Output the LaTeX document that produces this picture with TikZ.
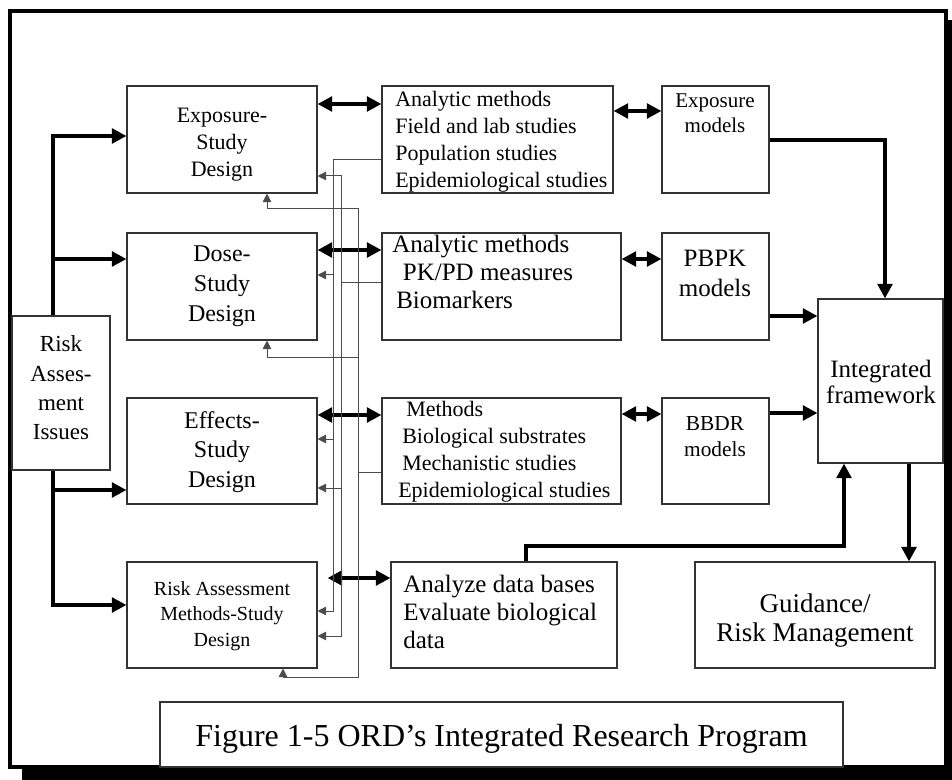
\documentclass[tikz,border=0pt]{standalone}
\usepackage{fontspec}
\setmainfont{Liberation Serif}
\usetikzlibrary{arrows.meta}

% box given by its left, top, right and bottom edge (pixel units, y down)
\newcommand{\mkbox}[5]{%
  \node[box, minimum width={(#4-#2)*0.75pt}, minimum height={(#5-#3)*0.75pt}]
    (#1) at ({(#2+#4)/2},{(#3+#5)/2}) {};}

\begin{document}
\begin{tikzpicture}[x=0.75pt,y=-0.75pt,
  box/.style={draw=black!80, line width=0.8pt, inner sep=0pt, fill=white},
  lbl/.style={inner sep=0pt, align=center, text=black},
  bigtip/.tip={Triangle[length=11pt,width=11pt]},
  smalltip/.tip={Triangle[length=6.5pt,width=6.5pt]},
  bigarrow/.style={line width=3pt, -bigtip},
  dblarrow/.style={line width=3pt, bigtip-bigtip},
  fb/.style={draw=black!70, line width=0.75pt, -smalltip},
  fbline/.style={draw=black!70, line width=0.75pt},
]
\useasboundingbox (0,0) rectangle (952,780);

% outer frame with drop shadow
\fill[black] (22,20) rectangle (952,780);
\draw[line width=2.8pt, fill=white] (10,11) rectangle (946,767);

% study design column
\mkbox{exp}{127}{86}{317}{193}
\mkbox{dose}{127}{233}{317}{340}
\mkbox{eff}{127}{398}{317}{504}
\mkbox{ra}{127}{562}{317}{668}
\mkbox{risk}{12}{316}{110}{470}

% methods column
\mkbox{an}{382}{86}{613}{193}
\mkbox{pk}{382}{233}{621}{340}
\mkbox{em}{382}{398}{621}{504}
\mkbox{ana}{391}{562}{617}{668}

% models column
\mkbox{expm}{662}{86}{769}{193}
\mkbox{pbpk}{662}{233}{769}{340}
\mkbox{bbdr}{662}{398}{769}{504}

% right side
\mkbox{fw}{818}{299}{943}{463}
\mkbox{gd}{695}{562}{935}{668}
\mkbox{cap}{160}{702}{843}{767}

% texts
\node[lbl, font=\fontsize{16.5pt}{20.25pt}\selectfont] (expT) at (222,145) {Exposure-\\Study\\Design};
\node[lbl, font=\fontsize{18pt}{22.5pt}\selectfont] (doseT) at (222,286.5) {Dose-\\Study\\Design};
\node[lbl, font=\fontsize{18pt}{22pt}\selectfont] (effT) at (222,452) {Effects-\\Study\\Design};
\node[lbl, font=\fontsize{15pt}{19pt}\selectfont] (raT) at (222,616) {Risk Assessment\\Methods-Study\\Design};
\node[lbl, font=\fontsize{17.25pt}{22pt}\selectfont] (riskT) at (61,388) {Risk\\Asses-\\ment\\Issues};

\node[lbl, align=left, anchor=west, font=\fontsize{16.5pt}{20.25pt}\selectfont] (anT) at (395,141.5)
  {Analytic methods\\Field and lab studies\\Population studies\\Epidemiological studies};
\node[lbl, align=left, anchor=west, font=\fontsize{18.75pt}{21pt}\selectfont] (pkT) at (392,271.5)
  {Analytic methods\\\hspace*{8pt}PK/PD measures\\\hspace*{3pt}Biomarkers};
\node[lbl, align=left, anchor=west, font=\fontsize{16.5pt}{20.25pt}\selectfont] (emT) at (398,452)
  {\hspace*{6pt}Methods\\\hspace*{3pt}Biological substrates\\\hspace*{3pt}Mechanistic studies\\Epidemiological studies};
\node[lbl, align=left, anchor=west, font=\fontsize{18.75pt}{21pt}\selectfont] (anaT) at (403,611.5)
  {Analyze data bases\\Evaluate biological\\data};

\node[lbl, font=\fontsize{15.75pt}{18.75pt}\selectfont] (expmT) at (715,113.5) {Exposure\\models};
\node[lbl, font=\fontsize{18.75pt}{22.5pt}\selectfont] (pbpkT) at (715,273) {PBPK\\models};
\node[lbl, font=\fontsize{16pt}{19.5pt}\selectfont] (bbdrT) at (715,437) {BBDR\\models};
\node[lbl, font=\fontsize{18.75pt}{19.5pt}\selectfont] (fwT) at (881,381.5) {Integrated\\framework};
\node[lbl, font=\fontsize{20.25pt}{21.75pt}\selectfont] (gdT) at (815,621) {Guidance/\\Risk Management};
\node[lbl, font=\fontsize{24pt}{28pt}\selectfont] (capT) at (501.5,739) {Figure 1-5 ORD’s Integrated Research Program};

% risk issues feeding the study designs
\draw[bigarrow] (risk.north -| 53,0) |- (exp.west |- 0,136);
\draw[bigarrow] (53,259) -- (dose.west |- 0,259);
\draw[bigarrow] (risk.south -| 53,0) |- (ra.west |- 0,605);
\draw[bigarrow] (53,490) -- (eff.west |- 0,490);

% study designs <-> methods <-> models
\draw[dblarrow] (exp.east |- 0,104) -- (an.west |- 0,104);
\draw[dblarrow] (an.east |- 0,111) -- (expm.west |- 0,111);
\draw[dblarrow] (dose.east |- 0,250) -- (pk.west |- 0,250);
\draw[dblarrow] (pk.east |- 0,259) -- (pbpk.west |- 0,259);
\draw[dblarrow] (eff.east |- 0,415) -- (em.west |- 0,415);
\draw[dblarrow] (em.east |- 0,414) -- (bbdr.west |- 0,414);
\draw[dblarrow] ([xshift=7.5pt]ra.east |- 0,578) -- (ana.west |- 0,578);

% models and data into the framework
\draw[bigarrow] (expm.east |- 0,140) -| (fw.north -| 885,0);
\draw[bigarrow] (pbpk.east |- 0,316) -- (fw.west |- 0,316);
\draw[bigarrow] (bbdr.east |- 0,413) -- (fw.west |- 0,413);
\draw[bigarrow] (ana.north -| 526,0) |- (844,546) -- (fw.south -| 844,0);
\draw[bigarrow] (fw.south -| 909,0) -- (gd.north -| 909,0);

% feedback from population studies
\draw[fb] (an.west |- 0,160) -| (333,611) -- (ra.east |- 0,611);
\draw[fb] (333,275) -- (dose.east |- 0,275);
\draw[fb] (333,439) -- (eff.east |- 0,439);

% feedback from PK/PD measures
\draw[fb] (pk.west |- 0,283) -| (341,176) -- (exp.east |- 0,176);
\draw[fb] (341,283) |- (ra.east |- 0,636);
\draw[fb] (341,488) -- (eff.east |- 0,488);

% feedback from mechanistic studies
\draw[fb] (em.west |- 0,472) -| (358,209) -| (exp.south -| 267,0);
\draw[fb] (358,357) -| (dose.south -| 267,0);
\draw[fb] (358,472) |- (283,677) -- (ra.south -| 283,0);

\end{tikzpicture}
\end{document}
